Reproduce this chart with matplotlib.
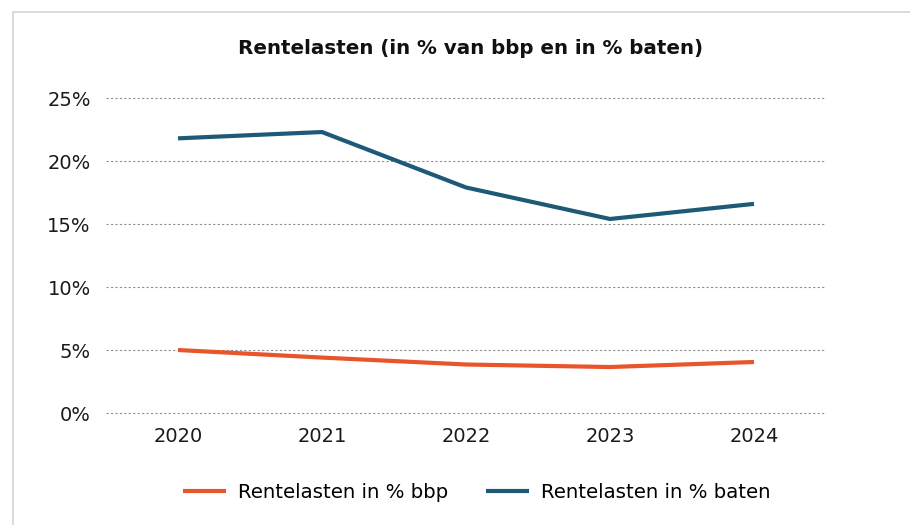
import matplotlib.pyplot as plt
from matplotlib.patches import Rectangle
from matplotlib.ticker import PercentFormatter

# Data
years = ['2020', '2021', '2022', '2023', '2024']
pct_bbp = [5.0, 4.4, 3.85, 3.65, 4.05]
pct_baten = [21.8, 22.3, 17.9, 15.4, 16.6]
y_ticks = [0, 5, 10, 15, 20, 25]

orange = '#E8552A'
blue = '#1E5A77'

fig = plt.figure(figsize=(9.1, 5.25), dpi=100)
ax = fig.add_axes([0.1165, 0.2133, 0.7912, 0.60])

# light gray frame around the chart (open on right/bottom like the screenshot)
fig.patches.append(Rectangle((13 / 910, -0.1), 1.2, 1 - 12 / 525 + 0.1, transform=fig.transFigure,
                             fill=False, edgecolor='#d4d4d4', linewidth=1.2))

x = range(len(years))
ax.plot(x, pct_bbp, color=orange, linewidth=3, label='Rentelasten in % bbp', solid_capstyle='butt')
ax.plot(x, pct_baten, color=blue, linewidth=3, label='Rentelasten in % baten', solid_capstyle='butt')

ax.set_xlim(-0.5, len(years) - 0.5)
ax.set_ylim(0, 25)
ax.set_xticks(list(x))
ax.set_xticklabels(years)
ax.set_yticks(y_ticks)
ax.yaxis.set_major_formatter(PercentFormatter(decimals=0))
ax.tick_params(length=0, labelsize=14, colors='#1a1a1a')
ax.tick_params(axis='y', pad=11)
ax.tick_params(axis='x', pad=10)

for s in ax.spines.values():
    s.set_visible(False)
ax.grid(axis='y', linestyle=(0, (2, 2)), color='#909090', linewidth=0.8)
for gl in ax.get_ygridlines():
    gl.set_clip_on(False)
ax.set_axisbelow(True)

fig.text(0.517, 0.908, 'Rentelasten (in % van bbp en in % baten)', ha='center', va='center',
         fontsize=14.3, fontweight='bold', color='#111111')

fig.legend(loc='center', bbox_to_anchor=(0.524, 0.062), ncol=2, frameon=False, fontsize=14.2,
           handlelength=2.2, columnspacing=1.9, handletextpad=0.6)

fig.savefig('out.png', dpi=100, facecolor='white')
